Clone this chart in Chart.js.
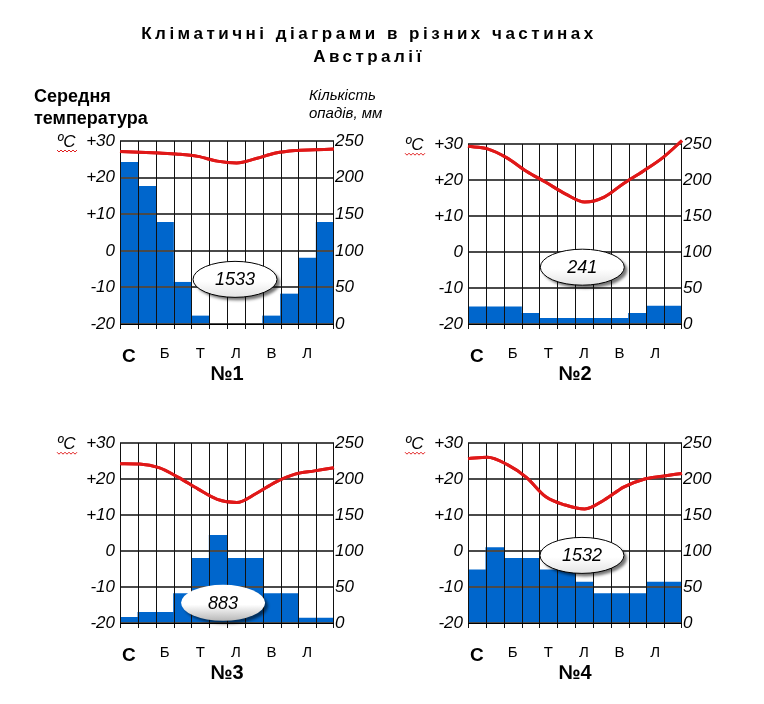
<!DOCTYPE html>
<html>
<head>
<meta charset="utf-8">
<script src="https://cdn.jsdelivr.net/npm/chart.js@4.4.1/dist/chart.umd.min.js"></script>
<style>
  body { margin: 0; background: #fff; width: 764px; height: 704px; position: relative; overflow: hidden; }
  canvas { position: absolute; }
</style>
</head>
<body>
<canvas id="c1" width="740" height="400"></canvas>
<canvas id="c2" width="370" height="270"></canvas>
<canvas id="c3" width="370" height="270"></canvas>
<canvas id="c4" width="370" height="270"></canvas>
<script>
// data
const monthLabels = ['С', '', 'Б', '', 'Т', '', 'Л', '', 'В', '', 'Л', ''];
const chartNames = ['№1', '№2', '№3', '№4'];
const totals = ['1533', '241', '883', '1532'];
const pageTitle = ['Кліматичні діаграми в різних частинах', 'Австралії'];
const tempTitle = ['Середня', 'температура'];
const rainTitle = ['Кількість', 'опадів, мм'];

// precipitation, mm
const precip1 = [221, 188, 139, 57, 11, 0, 0, 0, 11, 41, 90, 139];
const precip2 = [24, 24, 24, 15, 8, 8, 8, 8, 8, 15, 25, 25];
const precip3 = [8, 15, 15, 41, 90, 122, 90, 90, 41, 41, 7, 7];
const precip4 = [74, 105, 90, 90, 74, 74, 57, 41, 41, 41, 57, 57];

// temperature, °C
const temp1 = [27.1, 26.9, 26.7, 26.4, 25.8, 24.5, 24.0, 25.2, 26.7, 27.4, 27.6, 27.8];
const temp2 = [29.4, 28.7, 26.2, 22.5, 19.4, 16.2, 13.9, 15.3, 19.1, 22.5, 26.2, 31.0];
const temp3 = [24.3, 24.2, 23.2, 20.5, 17.3, 14.4, 13.5, 16.0, 19.2, 21.4, 22.3, 23.2];
const temp4 = [25.7, 26.1, 24.1, 20.5, 15.1, 12.8, 11.7, 14.2, 17.8, 19.9, 20.8, 21.6];

const precipAll = [precip1, precip2, precip3, precip4];
const tempAll = [temp1, temp2, temp3, temp4];

// where each plot area sits on the page, and where the total's oval goes (month index, mm)
const areaPos = [[120, 141], [468, 141], [120, 440], [468, 440]];
const ovalPos = [[5.95, 61], [5.91, 79], [5.28, 28], [5.89, 94]];

const FONT = '"Liberation Sans", Arial, sans-serif';

function drawPageText(ctx) {
  ctx.save();
  ctx.fillStyle = '#000';
  ctx.textBaseline = 'middle';
  ctx.textAlign = 'center';
  ctx.font = 'bold 17px ' + FONT;
  if ('letterSpacing' in ctx) ctx.letterSpacing = '3.5px';
  ctx.fillText(pageTitle[0], 369, 34);
  ctx.fillText(pageTitle[1], 369, 57);
  if ('letterSpacing' in ctx) ctx.letterSpacing = '0px';
  ctx.textAlign = 'left';
  ctx.font = 'bold 18px ' + FONT;
  ctx.fillText(tempTitle[0], 34, 97);
  ctx.fillText(tempTitle[1], 34, 119);
  ctx.font = 'italic 15px ' + FONT;
  ctx.fillText(rainTitle[0], 309, 96);
  ctx.fillText(rainTitle[1], 309, 114);
  ctx.restore();
}

// grid over the bars (as thin fills), red line on top, then ºC note and the oval with the total
const extras = {
  id: 'extras',
  afterDraw(chart, args, opts) {
    const ctx = chart.ctx;
    const area = chart.chartArea;
    const xs = chart.scales.x;
    const ys = chart.scales.y;
    const w = Math.round(area.right - area.left);

    if (opts.pageText) drawPageText(ctx);

    ctx.save();
    ctx.fillStyle = '#4a4a4a';
    for (let v = ys.min; v <= ys.max; v += 10) {
      const py = Math.round(ys.getPixelForValue(v));
      ctx.fillRect(Math.round(area.left), py - 1, w, 2);
    }
    ctx.fillStyle = '#111';
    for (let k = 0; k <= monthLabels.length; k++) {
      const px = Math.round(xs.getPixelForValue(k - 0.5));
      ctx.fillRect(Math.min(px, Math.round(area.right) - 1), Math.round(area.top), 1, Math.round(area.bottom - area.top) + 5);
    }
    ctx.fillStyle = '#000';
    ctx.fillRect(Math.round(area.left), Math.round(area.bottom), w, 1);
    ctx.restore();

    chart.getDatasetMeta(1).controller.draw();

    ctx.save();
    ctx.font = 'italic 17px ' + FONT;
    ctx.fillStyle = '#000';
    ctx.textBaseline = 'middle';
    ctx.fillText('ºC', area.left - 63, area.top + 1);
    ctx.strokeStyle = '#e02020';
    ctx.lineWidth = 1;
    ctx.beginPath();
    for (let k = 0; k <= 20; k += 2) {
      const px = area.left - 63 + k;
      const py = area.top + 9 + (k % 4 === 0 ? 0 : 2);
      if (k === 0) ctx.moveTo(px, py); else ctx.lineTo(px, py);
    }
    ctx.stroke();
    ctx.restore();

    const x = xs.getPixelForValue(opts.at[0]);
    const y = chart.scales.y2.getPixelForValue(opts.at[1]);

    ctx.save();
    ctx.shadowColor = 'rgba(0,0,0,0.55)';
    ctx.shadowOffsetX = 3;
    ctx.shadowOffsetY = 3;
    ctx.shadowBlur = 3;
    const g = ctx.createLinearGradient(0, y - 18, 0, y + 18);
    g.addColorStop(0, '#fff');
    g.addColorStop(0.55, '#fff');
    g.addColorStop(1, opts.outline ? '#e4e4e4' : '#b8b8b8');
    ctx.fillStyle = g;
    ctx.beginPath();
    ctx.ellipse(x, y, 42, 18, 0, 0, Math.PI * 2);
    ctx.fill();
    ctx.restore();

    ctx.save();
    if (opts.outline) {
      ctx.strokeStyle = '#000';
      ctx.lineWidth = 1;
      ctx.beginPath();
      ctx.ellipse(x, y, 42, 18, 0, 0, Math.PI * 2);
      ctx.stroke();
    }
    ctx.font = 'italic 18px ' + FONT;
    ctx.fillStyle = '#000';
    ctx.textAlign = 'center';
    ctx.textBaseline = 'middle';
    ctx.fillText(opts.text, x, y + 1);
    ctx.restore();
  }
};

function makeChart(i) {
  const canvas = document.getElementById('c' + (i + 1));
  let padding = { top: 12, left: 0, right: 0, bottom: 0 };
  if (i === 0) {
    // first canvas also carries the page title and axis captions
    canvas.style.left = '0px';
    canvas.style.top = '0px';
    padding = { top: areaPos[0][1], left: areaPos[0][0] - 100, right: 740 - (areaPos[0][0] + 214 + 56), bottom: 1 };
  } else {
    canvas.style.left = (areaPos[i][0] - 100) + 'px';
    canvas.style.top = (areaPos[i][1] - 12) + 'px';
  }

  return new Chart(canvas, {
    data: {
      labels: monthLabels,
      datasets: [
        {
          type: 'bar', data: precipAll[i], xAxisID: 'x', yAxisID: 'y2',
          backgroundColor: '#0066cc', borderWidth: 0,
          barPercentage: 1, categoryPercentage: 1, grouped: false, order: 2
        },
        {
          type: 'line', data: tempAll[i], xAxisID: 'xl', yAxisID: 'y',
          borderColor: '#e01818', borderWidth: 3, pointRadius: 0,
          cubicInterpolationMode: 'monotone', clip: false, order: 1
        }
      ]
    },
    options: {
      responsive: false,
      animation: false,
      layout: { padding: padding },
      plugins: {
        legend: { display: false },
        tooltip: { enabled: false },
        extras: { at: ovalPos[i], text: totals[i], outline: i !== 2, pageText: i === 0 }
      },
      scales: {
        x: {
          type: 'category', position: 'bottom', offset: true,
          grid: { display: false, drawTicks: false },
          border: { display: false },
          ticks: {
            autoSkip: false, maxRotation: 0, padding: 21, color: '#000',
            font: c => c.index === 0 ? { family: FONT, size: 19, weight: 'bold' } : { family: FONT, size: 15 }
          },
          title: { display: true, text: chartNames[i], color: '#000',
                   font: { family: FONT, size: 20, weight: 'bold' }, padding: { top: 0, bottom: 13 } },
          afterFit: s => { s.height = 75; }
        },
        xl: { type: 'category', offset: false, display: false },
        y: {
          position: 'left', min: -20, max: 30,
          grid: { display: false, drawTicks: false },
          border: { display: false },
          ticks: {
            stepSize: 10, padding: 5, color: '#000',
            font: { family: FONT, size: 17, style: 'italic' },
            callback: v => v > 0 ? '+' + v : String(v)
          },
          afterFit: s => { s.width = 100; }
        },
        y2: {
          position: 'right', min: 0, max: 250,
          grid: { display: false, drawTicks: false },
          border: { display: false },
          ticks: {
            stepSize: 50, padding: 1, color: '#000',
            font: { family: FONT, size: 17, style: 'italic' }
          },
          afterFit: s => { s.width = 56; }
        }
      }
    },
    plugins: [extras]
  });
}

for (let i = 0; i < 4; i++) makeChart(i);
</script>
</body>
</html>
